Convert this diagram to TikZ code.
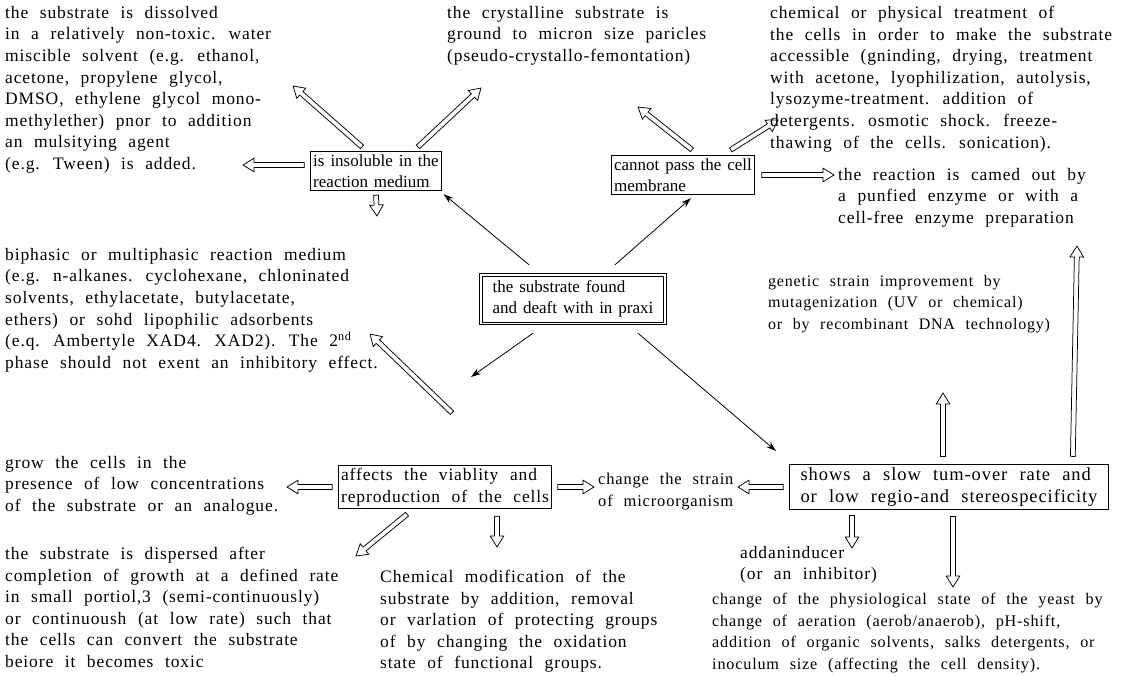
\documentclass[tikz,border=0pt]{standalone}
\usepackage{fontspec}
\setmainfont{Liberation Serif}[WordSpace=2.2, LetterSpace=5]
\newfontfamily\tightfont{Liberation Serif}[WordSpace=1.4]
\usetikzlibrary{arrows.meta,calc}
\newcommand\fs{\fontsize{17.5}{21.6}\selectfont}
\newcommand\fsb{\tightfont\fontsize{17}{21.6}\selectfont}
\newcommand\harrow[2]{%
  \path let \p1=(#1), \p2=(#2) in \pgfextra{%
    \pgfmathsetmacro\tmpa{atan2(\y2-\y1,\x2-\x1)}%
    \pgfmathsetmacro\tmpb{veclen(\x2-\x1,\y2-\y1)}%
    \xdef\harang{\tmpa}\xdef\harlen{\tmpb}\xdef\harx{\x1}\xdef\hary{\y1}};
  \begin{scope}[shift={(\harx,\hary)}, x=1pt, y=1pt, rotate=\harang]
    \draw[hollowline] (0,-2.4) -- ({\harlen-11},-2.4) -- ({\harlen-11},-6.8) -- (\harlen,0)
      -- ({\harlen-11},6.8) -- ({\harlen-11},2.4) -- (0,2.4) -- cycle;
  \end{scope}}
\begin{document}
\begin{tikzpicture}[x=1pt,y=-1pt,
  txt/.style={anchor=north west, align=left, inner sep=0pt, font=\fs},
  bx/.style={draw, line width=0.8pt, align=left, inner xsep=2.5pt, inner ysep=3pt, font=\fs},
  hollowline/.style={line width=0.75pt, line join=miter},
  thin/.style={line width=0.8pt, -{Stealth[length=10pt,width=6.5pt]}}]
\useasboundingbox (0,0) rectangle (1131,676);

% text blocks
\node[txt] (t1) at (5,6) {the substrate is dissolved\\in a relatively non-toxic. water\\miscible solvent (e.g. ethanol,\\acetone, propylene glycol,\\DMSO, ethylene glycol mono-\\methylether) pnor to addition\\an mulsitying agent\\(e.g. Tween) is added.};
\node[txt] (t2) at (447,6) {the crystalline substrate is\\ground to micron size paricles\\(pseudo-crystallo-femontation)};
\node[txt] (t3) at (770,6) {chemical or physical treatment of\\the cells in order to make the substrate\\accessible (gninding, drying, treatment\\with acetone, lyophilization, autolysis,\\lysozyme-treatment. addition of\\detergents. osmotic shock. freeze-\\thawing of the cells. sonication).};
\node[txt] (t4) at (5,248) {biphasic or multiphasic reaction medium\\(e.g. n-alkanes. cyclohexane, chloninated\\solvents, ethylacetate, butylacetate,\\ethers) or sohd lipophilic adsorbents\\(e.q. Ambertyle XAD4. XAD2). The 2\textsuperscript{nd}\\phase should not exent an inhibitory effect.};
\node[txt] (t5) at (5,456) {grow the cells in the\\presence of low concentrations\\of the substrate or an analogue.};
\node[txt] (t6) at (5,547) {the substrate is dispersed after\\completion of growth at a defined rate\\in small portiol,3 (semi-continuously)\\or continuoush (at low rate) such that\\the cells can convert the substrate\\beiore it becomes toxic};
\node[txt] (t7) at (380,570) {Chemical modification of the\\substrate by addition, removal\\or varlation of protecting groups\\of by changing the oxidation\\state of functional groups.};
\node[txt] (t8) at (740,546) {addaninducer\\(or an inhibitor)};
\node[txt, font=\fontsize{16.2}{21.6}\selectfont] (t9) at (712,593) {change of the physiological state of the yeast by\\change of aeration (aerob/anaerob), pH-shift,\\addition of organic solvents, salks detergents, or\\inoculum size (affecting the cell density).};
\node[txt] (r) at (838,168) {the reaction is camed out by\\a punfied enzyme or with a\\cell-free enzyme preparation};
\node[txt, font=\fontsize{16}{21.6}\selectfont] (g) at (768,275) {genetic strain improvement by\\mutagenization (UV or chemical)\\or by recombinant DNA technology)};
\node[txt, font=\fontsize{16.5}{21.6}\selectfont] (s) at (598,473) {change the strain\\of microorganism};

% boxes
\node[bx, font=\fsb] (A) at (376,171) {is insoluble in the\\reaction medium};
\node[bx, font=\fsb] (B) at (683,175) {cannot pass the cell\\membrane};
\node[draw, line width=1.2pt, align=left, inner xsep=13pt, inner ysep=7pt, font=\fsb] (C) at (573,299) {the substrate found\\and deaft with in praxi};
\draw[line width=0.6pt] ($(C.north west)+(3.2,3.2)$) rectangle ($(C.south east)+(-3.2,-3.2)$);
\node[bx] (D) at (445,487) {affects the viablity and\\reproduction of the cells};
\node[bx, inner xsep=11pt, font=\fontsize{18.5}{21.6}\selectfont] (E) at (949,487) {shows a slow tum-over rate and\\or low regio-and stereospecificity};

% free ends
\coordinate (e1) at (293,86);
\coordinate (e2) at (481,88);
\coordinate (e3) at (243,165);
\coordinate (e4) at (377,216);
\coordinate (e5) at (638,107);
\coordinate (e6) at (778,120);
\coordinate (e7) at (834,175);
\coordinate (e8) at (370,334);
\coordinate (e9) at (287,487);
\coordinate (e10) at (594,487);
\coordinate (e11) at (497,547);
\coordinate (e12) at (356,556);
\coordinate (e13) at (738,487);
\coordinate (e14) at (852,548);
\coordinate (e15) at (953,587);
\coordinate (e16) at (943,393);
\coordinate (e17) at (1077,246);
\coordinate (f3) at (471,377);
\coordinate (f4) at (776,451);

% hollow arrows
\harrow{$(A.north)+(-14,-4)$}{e1}
\harrow{$(A.north)+(42,-4)$}{e2}
\harrow{$(A.west)+(-6,-6)$}{e3}
\harrow{$(A.south)+(0,4)$}{e4}
\harrow{$(B.north)+(9,-5)$}{e5}
\harrow{$(B.north east)+(-24,-5)$}{e6}
\harrow{$(B.east)+(7,0)$}{e7}
\harrow{$(D.north)+(7,-52)$}{e8}
\harrow{$(D.west)+(-6,0)$}{e9}
\harrow{$(D.east)+(6,0)$}{e10}
\harrow{$(D.south)+(52,7)$}{e11}
\harrow{$(D.south)+(-38,5)$}{e12}
\harrow{$(E.west)+(-6,0)$}{e13}
\harrow{$(E.south)+(-97,6)$}{e14}
\harrow{$(E.south)+(4,7)$}{e15}
\harrow{$(E.north)+(-6,-8)$}{e16}
\harrow{$(E.north east)+(-36,-8)$}{e17}

% thin arrows
\draw[thin] ($(C.north west)+(50,-8)$) -- ($(A.south east)+(2,3)$);
\draw[thin] ($(C.north east)+(-52,-8)$) -- ($(B.south)+(8,3)$);
\draw[thin] ($(C.south west)+(54,8)$) -- (f3);
\draw[thin] ($(C.south east)+(-29,8)$) -- (f4);
\end{tikzpicture}
\end{document}
